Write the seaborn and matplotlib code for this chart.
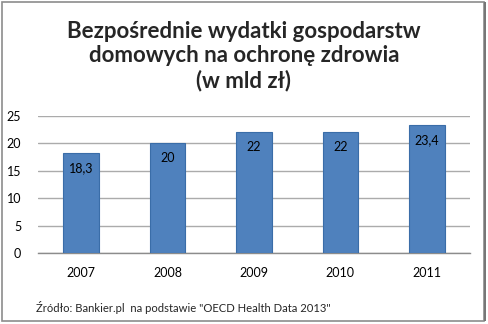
import matplotlib
matplotlib.use("Agg")
import matplotlib.pyplot as plt
import seaborn as sns
import pandas as pd
from matplotlib.patches import Rectangle

years = ["2007", "2008", "2009", "2010", "2011"]
values = [18.3, 20, 22, 22, 23.4]
value_labels = ["18,3", "20", "22", "22", "23,4"]
title = "Bezpośrednie wydatki gospodarstw\ndomowych na ochronę zdrowia\n(w mld zł)"
source = 'Źródło: Bankier.pl  na podstawie "OECD Health Data 2013"'

sns.set_theme(style="white")
plt.rcParams["font.family"] = ["Lato", "DejaVu Sans"]

df = pd.DataFrame({"year": years, "value": values})

W, H = 488, 324
fig = plt.figure(figsize=(W / 100, H / 100), dpi=100)
ax = fig.add_axes([38 / W, 1 - 253 / H, (470 - 38) / W, (253 - 116) / H])

sns.barplot(data=df, x="year", y="value", color="#4F81BD", width=0.41,
            saturation=1, edgecolor="#3A6DA8", linewidth=0.8, ax=ax, zorder=3)

ax.set_ylim(0, 25)
ax.set_yticks([0, 5, 10, 15, 20, 25])
ax.yaxis.grid(True, color="#ABABAB", linewidth=1.0, zorder=0)
ax.set_axisbelow(True)
for s in ["left", "right", "top"]:
    ax.spines[s].set_visible(False)
ax.spines["bottom"].set_color("#8C8C8C")
ax.spines["bottom"].set_linewidth(1.0)
ax.set_xlabel("")
ax.set_ylabel("")
ax.tick_params(axis="both", length=0, labelsize=9, colors="#000000")
ax.tick_params(axis="x", pad=10)
ax.tick_params(axis="y", pad=12)
for lbl in ax.get_yticklabels():
    lbl.set_horizontalalignment("right")

for p, lab in zip(ax.patches, value_labels):
    ax.annotate(lab, (p.get_x() + p.get_width() / 2, p.get_height()),
                xytext=(0, -15), textcoords="offset pixels",
                ha="center", va="center", fontsize=9, color="#000000", zorder=5)

fig.text(244 / W, 1 - 56 / H, title, ha="center", va="center", fontsize=16,
         fontweight="bold", linespacing=1.2)
fig.text(36 / W, 1 - 308 / H, source, ha="left", va="center", fontsize=8.1)

fig.patches.append(Rectangle((1.5 / W, 1 - 320.5 / H), 482.5 / W, 319 / H,
                             transform=fig.transFigure, fill=False,
                             edgecolor="#8C8C8C", linewidth=1.2))
fig.patches.append(Rectangle((484 / W, 1 - 321 / H), 1.5 / W, 319 / H,
                             transform=fig.transFigure, fill=True,
                             facecolor="#777777", edgecolor="none"))

fig.savefig("out.png", dpi=100)
